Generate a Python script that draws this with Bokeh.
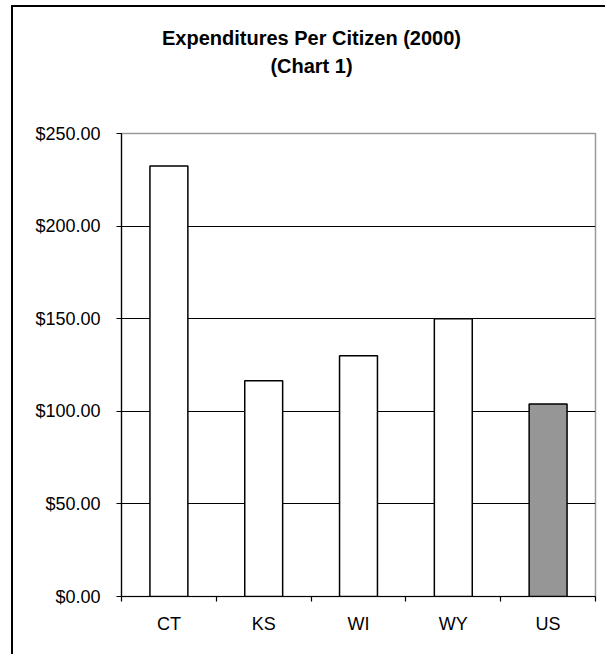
from bokeh.plotting import figure
from bokeh.models import FixedTicker, NumeralTickFormatter, Label, ColumnDataSource
from bokeh.embed import file_html
from bokeh.resources import INLINE

# ---- data ----
states = ["CT", "KS", "WI", "WY", "US"]
expenditures = [232.5, 116.5, 130.0, 150.0, 104.0]
bar_colors = ["#ffffff", "#ffffff", "#ffffff", "#ffffff", "#969696"]
y_ticks = [0, 50, 100, 150, 200, 250]
title_line1 = "Expenditures Per Citizen (2000)"
title_line2 = "(Chart 1)"

FONT = "Liberation Sans"

positions = [i + 0.5 for i in range(len(states))]
src = ColumnDataSource(dict(x=positions, top=expenditures, color=bar_colors, state=states))

p = figure(width=594, height=649, x_range=(0, len(states)), y_range=(0, 250),
           output_backend="svg", toolbar_location=None,
           min_border_left=108, min_border_right=12, min_border_top=126,
           min_border_bottom=60)
p.styles = {"margin-left": "11px", "margin-top": "5px",
            "border-left": "2px solid black", "border-top": "2px solid black"}
p.background_fill_color = "white"
p.border_fill_color = "white"
p.outline_line_color = "#9a9a9a"
p.outline_line_width = 1.5

# grid
p.xgrid.visible = False
p.ygrid.ticker = FixedTicker(ticks=y_ticks[1:-1])
p.ygrid.grid_line_color = "black"
p.ygrid.grid_line_width = 1.2

# bars
p.vbar(x="x", top="top", width=0.4, source=src, fill_color="color",
       line_color="black", line_width=1.5)

# y axis
p.yaxis.ticker = FixedTicker(ticks=y_ticks)
p.yaxis.formatter = NumeralTickFormatter(format="$0.00")
p.yaxis.major_tick_in = 0
p.yaxis.major_tick_out = 5
p.yaxis.minor_tick_line_color = None
p.yaxis.axis_line_color = "black"
p.yaxis.axis_line_width = 1.2
p.yaxis.major_tick_line_color = "black"
p.yaxis.major_tick_line_width = 1.2
p.yaxis.major_label_text_font = FONT
p.yaxis.major_label_text_font_size = "18px"
p.yaxis.major_label_text_color = "black"
p.yaxis.major_label_standoff = 16

# x axis: labels at category centres, ticks at category boundaries
p.xaxis.ticker = FixedTicker(ticks=positions, minor_ticks=list(range(len(states) + 1)))
p.xaxis.major_label_overrides = {pos: s for pos, s in zip(positions, states)}
p.xaxis.major_tick_line_color = None
p.xaxis.minor_tick_line_color = "black"
p.xaxis.minor_tick_line_width = 1.2
p.xaxis.minor_tick_in = 0
p.xaxis.minor_tick_out = 5
p.xaxis.axis_line_color = "black"
p.xaxis.axis_line_width = 1.2
p.xaxis.major_label_text_font = FONT
p.xaxis.major_label_text_font_size = "18px"
p.xaxis.major_label_text_color = "black"
p.xaxis.major_label_standoff = 11

# titles placed in the area above the plot
for txt, yy in [(title_line1, 96), (title_line2, 46)]:
    p.add_layout(Label(x=190, y=yy, x_units="screen", y_units="screen", text=txt,
                       text_align="center", text_baseline="middle", text_font=FONT,
                       text_font_size="20px", text_font_style="bold",
                       text_color="black"), "above")

open("out.html", "w").write(file_html(p, INLINE))
